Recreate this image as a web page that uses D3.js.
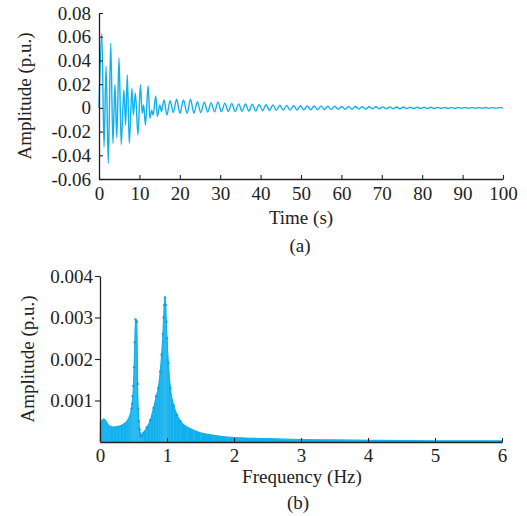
<!DOCTYPE html>
<html><head><meta charset="utf-8">
<script src="https://cdn.jsdelivr.net/npm/d3@7"></script>
<style>
html,body{margin:0;padding:0;background:#fff;}
svg text{font-family:"Liberation Serif","Times New Roman",serif;fill:#222;}
</style></head>
<body><svg id="c" width="527" height="516"></svg>
<script>
// ---- Data ----
const timeTicks = [0,10,20,30,40,50,60,70,80,90,100];
const ampTicks = [-0.06,-0.04,-0.02,0,0.02,0.04,0.06,0.08];
const ampTickLabels = ["-0.06","-0.04","-0.02","0","0.02","0.04","0.06","0.08"];
// local extrema of the time-domain response [time (s), amplitude (p.u.)]
const timeSeries = [
[0,0],[0.7,0.063],[1.24,-0.033],[1.75,0.035],[2.3,-0.047],[2.9,0.0545],[3.45,-0.030],[3.95,0.0195],
[4.4,-0.025],[4.95,0.042],[5.5,-0.031],[6.15,0.015],[6.6,-0.0145],[7.0,0.028],[7.5,-0.030],[8.15,0.0165],
[8.5,-0.006],[9.0,0.0125],[9.65,-0.023],[10.25,0.0195],[10.7,-0.0046],[11.05,0.0025],[11.5,-0.0145],
[12.15,0.0185],[12.6,-0.0088],[13.05,-0.002],[13.4,-0.006],[14.05,0.010],[14.45,-0.0074],[15.05,0.0025],
[15.45,-0.003],[16.1,0.0067],[16.8,-0.006],[17.6,0.006],[18.4,-0.004],[19.2,0.0072],[20.05,-0.0046],
[20.9,0.0067],[21.8,-0.0046],[22.65,0.0072],[23.5,-0.0045],[24.35,0.0052],[25.2,-0.004],[26.05,0.0047],
[26.9,-0.0035],[27.75,0.0042],[28.6,-0.0034],[29.45,0.0048],[30.3,-0.0033],[31.15,0.0040],[32.0,-0.0030],
[32.85,0.0036],[33.7,-0.0030],[34.55,0.0034],[35.4,-0.0028],[36.25,0.0032],[37.1,-0.0027],[37.95,0.0030],
[38.8,-0.0026],[39.65,0.0028],[40.5,-0.0024],[41.35,0.0026],[42.2,-0.0022],[43.05,0.0024],[43.9,-0.0021],
[44.75,0.0022],[45.6,-0.0020],[46.45,0.0021],[47.3,-0.0019],[48.15,0.0020],[49.0,-0.0018],[49.85,0.0018],
[50.7,-0.0017],[51.55,0.0017],[52.4,-0.0016],[53.25,0.0016],[54.1,-0.0015],[54.95,0.0015],[55.8,-0.0014],
[56.65,0.0014],[57.5,-0.0013],[58.35,0.0013],[59.2,-0.0012],[60.05,0.0012],[60.9,-0.0012],[61.75,0.0011],
[62.6,-0.0011],[63.45,0.0011],[64.3,-0.0010],[65.15,0.0010],[66.0,-0.0010],[66.85,0.0009],[67.7,-0.0009],
[68.55,0.0009],[69.4,-0.0008],[70.25,0.0008],[71.1,-0.0008],[71.95,0.0008],[72.8,-0.0007],[73.65,0.0007],
[74.5,-0.0007],[75.35,0.0007],[76.2,-0.0006],[77.05,0.0006],[77.9,-0.0006],[78.75,0.0006],[79.6,-0.0005],
[80.45,0.0005],[81.3,-0.0005],[82.15,0.0005],[83.0,-0.0005],[83.85,0.0004],[84.7,-0.0004],[85.55,0.0004],
[86.4,-0.0004],[87.25,0.0004],[88.1,-0.0004],[88.95,0.0004],[89.8,-0.0003],[90.65,0.0003],[91.5,-0.0003],
[92.35,0.0003],[93.2,-0.0003],[94.05,0.0003],[94.9,-0.0003],[95.75,0.0003],[96.6,-0.0003],[97.45,0.0002],
[98.3,-0.0002],[99.15,0.0002],[100,0]
];

const freqTicks = [0,1,2,3,4,5,6];
const specTicks = [0.001,0.002,0.003,0.004];
const specTickLabels = ["0.001","0.002","0.003","0.004"];
const specFreq = [0,0.03,0.06,0.09,0.12,0.15,0.2,0.25,0.3,0.35,0.4,0.43,0.45,0.47,0.48,0.49,0.5,0.51,0.52,0.53,0.54,0.55,0.56,0.57,0.58,0.59,0.6,0.61,0.62,0.63,
  0.65,0.7,0.75,0.8,0.84,0.87,0.9,0.92,0.94,0.95,0.96,0.97,0.98,0.99,1.0,1.02,1.05,1.1,1.15,1.2,1.3,1.4,1.5,1.7,1.9,2.1,2.5,3.0,3.5,4.0,5.0,6.0];
const specAmp = [0.00045,0.00052,0.00055,0.00050,0.00042,0.00038,0.00036,0.00037,0.00039,0.00043,0.00050,0.00058,0.00066,0.00080,0.00092,0.00110,0.00135,0.0018,0.0024,0.00295,0.0029,0.0029,0.0014,0.0008,0.0005,0.0003,0.0002,0.00014,0.00013,0.00016,
  0.00022,0.00035,0.00052,0.00082,0.0011,0.0013,0.0017,0.0021,0.0026,0.0030,0.0033,0.00348,0.0033,0.0029,0.0025,0.0019,0.0013,0.00088,0.00065,0.0005,0.00036,0.00028,0.00022,0.00016,0.00012,0.0001,0.00008,0.00006,0.00005,0.00004,0.00003,0.00003];

// ---- Drawing ----
const svg = d3.select("#c");
const blue = "#0fb0ee";
const axisCol = "#222";
const fs = 19;

// Panel (a)
const xa = d3.scaleLinear().domain([0,100]).range([99,503]);
const ya = d3.scaleLinear().domain([-0.06,0.08]).range([179,13]);
const ga = svg.append("g");
ga.append("path").datum(timeSeries)
  .attr("fill","none").attr("stroke",blue).attr("stroke-width",1.4)
  .attr("d", d3.line().x(d=>xa(d[0])).y(d=>ya(d[1])).curve(d3.curveMonotoneX));

ga.append("g").attr("transform","translate(0,179)")
  .call(d3.axisBottom(xa).tickValues(timeTicks).tickSizeInner(-4).tickSizeOuter(0).tickPadding(7.5).tickFormat(d3.format("d")));
ga.append("g").attr("transform","translate(99,0)")
  .call(d3.axisLeft(ya).tickValues(ampTicks).tickSizeInner(-4).tickSizeOuter(0).tickPadding(8).tickFormat((d,i)=>ampTickLabels[i]));
ga.append("text").attr("x",301).attr("y",224).attr("text-anchor","middle").attr("font-size",fs).text("Time (s)");
ga.append("text").attr("x",300).attr("y",252).attr("text-anchor","middle").attr("font-size",fs).text("(a)");
ga.append("text").attr("transform","translate(31,96) rotate(-90)").attr("text-anchor","middle").attr("font-size",fs).text("Amplitude (p.u.)");

// Panel (b)
const xb = d3.scaleLinear().domain([0,6]).range([100,502]);
const yb = d3.scaleLinear().domain([0,0.004]).range([442,276]);
const spec = specFreq.map((f,i)=>[f,specAmp[i]]);
const gb = svg.append("g");
gb.append("path").datum(spec).attr("fill",blue)
  .attr("d", d3.area().x(d=>xb(d[0])).y0(yb(0)).y1(d=>yb(d[1])).curve(d3.curveMonotoneX));
gb.append("g").selectAll("line").data(spec).join("line")
  .attr("x1",d=>xb(d[0])).attr("x2",d=>xb(d[0])).attr("y1",yb(0)).attr("y2",d=>yb(d[1]))
  .attr("stroke","#3cc0f2").attr("stroke-width",0.6);
gb.append("path").datum(spec).attr("fill","none").attr("stroke",blue).attr("stroke-width",1.2)
  .attr("d", d3.line().x(d=>xb(d[0])).y(d=>yb(d[1])).curve(d3.curveMonotoneX));
gb.append("g").selectAll("circle").data(spec.filter(d=>d[0]>0.45&&d[0]<1.25)).join("circle")
  .attr("cx",d=>xb(d[0])).attr("cy",d=>yb(d[1])).attr("r",1.3).attr("fill","#1a9fd8");

gb.append("g").attr("transform","translate(0,442)")
  .call(d3.axisBottom(xb).tickValues(freqTicks).tickSizeInner(-4).tickSizeOuter(0).tickPadding(6.5).tickFormat(d3.format("d")));
gb.append("g").attr("transform","translate(100,0)")
  .call(d3.axisLeft(yb).tickValues(specTicks).tickSizeInner(5).tickSizeOuter(0).tickPadding(2).tickFormat((d,i)=>specTickLabels[i]));
gb.append("text").attr("x",302).attr("y",483).attr("text-anchor","middle").attr("font-size",fs).text("Frequency (Hz)");
gb.append("text").attr("x",298).attr("y",509).attr("text-anchor","middle").attr("font-size",fs).text("(b)");
gb.append("text").attr("transform","translate(34,359) rotate(-90)").attr("text-anchor","middle").attr("font-size",fs).text("Amplitude (p.u.)");

// axis styling
svg.selectAll(".domain").attr("stroke",axisCol).attr("stroke-width",1.3);
svg.selectAll(".tick line").attr("stroke",axisCol).attr("stroke-width",1.1);
svg.selectAll(".tick text").attr("font-size",fs).attr("fill",axisCol).style("font-family",'"Liberation Serif","Times New Roman",serif');
</script></body></html>
